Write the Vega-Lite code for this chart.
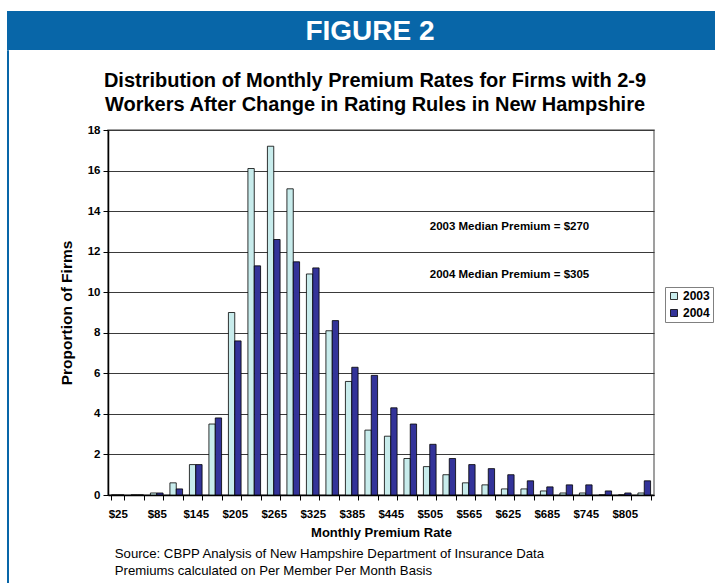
{
  "$schema": "https://vega.github.io/schema/vega-lite/v6.json",
  "background": "white",
  "padding": {"left": 7, "top": 11, "right": 0, "bottom": 0},
  "spacing": 0,
  "config": {
    "view": {"stroke": null},
    "font": "Liberation Sans",
    "concat": {"spacing": 0}
  },
  "vconcat": [
    {
      "width": 708,
      "height": 39,
      "view": {"fill": "#0866a8", "stroke": null},
      "data": {"values": [{"t": "FIGURE 2"}]},
      "mark": {"type": "text", "color": "white", "font": "Liberation Sans", "fontSize": 28, "fontWeight": "bold", "baseline": "middle", "dx": 9, "dy": 1},
      "encoding": {"text": {"field": "t"}}
    },
    {
      "spacing": 49,
      "resolve": {"scale": {"x": "independent", "y": "independent"}},
      "hconcat": [
        {
          "width": 2,
          "height": 365,
          "data": {"values": [{}]},
          "mark": {"type": "rect", "color": "#0866a8", "clip": false},
          "encoding": {
            "y": {"datum": 21.93, "scale": {"domain": [0, 18]}, "axis": null},
            "y2": {"datum": -4.4}
          }
        },
        {
          "width": 546,
          "height": 365,
          "title": {
            "text": ["Distribution of Monthly Premium Rates for Firms with 2-9", "Workers After Change in Rating Rules in New Hampshire"],
            "font": "Liberation Sans",
            "fontSize": 20,
            "fontWeight": "bold",
            "lineHeight": 24,
            "offset": 9,
            "anchor": "middle",
            "dx": -6,
            "color": "black"
          },
          "view": {"stroke": "#808080", "strokeWidth": 1.5},
          "data": {
            "values": [
              {"rate": "$25", "year": "2003", "pct": 0}, {"rate": "$25", "year": "2004", "pct": 0},
              {"rate": "$55", "year": "2003", "pct": 0}, {"rate": "$55", "year": "2004", "pct": 0},
              {"rate": "$85", "year": "2003", "pct": 0.1}, {"rate": "$85", "year": "2004", "pct": 0.1},
              {"rate": "$115", "year": "2003", "pct": 0.6}, {"rate": "$115", "year": "2004", "pct": 0.3},
              {"rate": "$145", "year": "2003", "pct": 1.5}, {"rate": "$145", "year": "2004", "pct": 1.5},
              {"rate": "$175", "year": "2003", "pct": 3.5}, {"rate": "$175", "year": "2004", "pct": 3.8},
              {"rate": "$205", "year": "2003", "pct": 9.0}, {"rate": "$205", "year": "2004", "pct": 7.6},
              {"rate": "$235", "year": "2003", "pct": 16.1}, {"rate": "$235", "year": "2004", "pct": 11.3},
              {"rate": "$265", "year": "2003", "pct": 17.2}, {"rate": "$265", "year": "2004", "pct": 12.6},
              {"rate": "$295", "year": "2003", "pct": 15.1}, {"rate": "$295", "year": "2004", "pct": 11.5},
              {"rate": "$325", "year": "2003", "pct": 10.9}, {"rate": "$325", "year": "2004", "pct": 11.2},
              {"rate": "$355", "year": "2003", "pct": 8.1}, {"rate": "$355", "year": "2004", "pct": 8.6},
              {"rate": "$385", "year": "2003", "pct": 5.6}, {"rate": "$385", "year": "2004", "pct": 6.3},
              {"rate": "$415", "year": "2003", "pct": 3.2}, {"rate": "$415", "year": "2004", "pct": 5.9},
              {"rate": "$445", "year": "2003", "pct": 2.9}, {"rate": "$445", "year": "2004", "pct": 4.3},
              {"rate": "$475", "year": "2003", "pct": 1.8}, {"rate": "$475", "year": "2004", "pct": 3.5},
              {"rate": "$505", "year": "2003", "pct": 1.4}, {"rate": "$505", "year": "2004", "pct": 2.5},
              {"rate": "$535", "year": "2003", "pct": 1.0}, {"rate": "$535", "year": "2004", "pct": 1.8},
              {"rate": "$565", "year": "2003", "pct": 0.6}, {"rate": "$565", "year": "2004", "pct": 1.5},
              {"rate": "$595", "year": "2003", "pct": 0.5}, {"rate": "$595", "year": "2004", "pct": 1.3},
              {"rate": "$625", "year": "2003", "pct": 0.3}, {"rate": "$625", "year": "2004", "pct": 1.0},
              {"rate": "$655", "year": "2003", "pct": 0.3}, {"rate": "$655", "year": "2004", "pct": 0.7},
              {"rate": "$685", "year": "2003", "pct": 0.2}, {"rate": "$685", "year": "2004", "pct": 0.4},
              {"rate": "$715", "year": "2003", "pct": 0.1}, {"rate": "$715", "year": "2004", "pct": 0.5},
              {"rate": "$745", "year": "2003", "pct": 0.1}, {"rate": "$745", "year": "2004", "pct": 0.5},
              {"rate": "$775", "year": "2003", "pct": 0}, {"rate": "$775", "year": "2004", "pct": 0.2},
              {"rate": "$805", "year": "2003", "pct": 0}, {"rate": "$805", "year": "2004", "pct": 0.1},
              {"rate": "$835", "year": "2003", "pct": 0.1}, {"rate": "$835", "year": "2004", "pct": 0.7}
            ]
          },
          "layer": [
            {
              "mark": {"type": "bar", "stroke": "black", "strokeWidth": 0.8},
              "encoding": {
                "x": {
                  "field": "rate",
                  "type": "ordinal",
                  "sort": null,
                  "scale": {"paddingInner": 0.35, "paddingOuter": 0.175},
                  "axis": {
                    "title": "Monthly Premium Rate",
                    "titleFont": "Liberation Sans",
                    "titleFontSize": 13,
                    "titleFontWeight": "bold",
                    "titleColor": "black",
                    "titlePadding": 7,
                    "labelAngle": 0,
                    "labelFont": "Liberation Sans",
                    "labelFontSize": 11.5,
                    "labelFontWeight": "bold",
                    "labelColor": "black",
                    "labelPadding": 8,
                    "labelExpr": "(toNumber(substring(datum.value, 1)) - 25) % 60 === 0 ? datum.value : ''",
                    "tickBand": "extent",
                    "tickColor": "black",
                    "tickSize": 5,
                    "domainColor": "black",
                    "domainWidth": 1.5,
                    "grid": false
                  }
                },
                "xOffset": {"field": "year", "type": "nominal"},
                "y": {
                  "field": "pct",
                  "type": "quantitative",
                  "scale": {"domain": [0, 18]},
                  "axis": {
                    "title": "Proportion of Firms",
                    "titleFont": "Liberation Sans",
                    "titleFontSize": 15.5,
                    "titleFontWeight": "bold",
                    "titleColor": "black",
                    "titlePadding": 13,
                    "values": [0, 2, 4, 6, 8, 10, 12, 14, 16, 18],
                    "labelFont": "Liberation Sans",
                    "labelFontSize": 11.5,
                    "labelFontWeight": "bold",
                    "labelColor": "black",
                    "labelPadding": 3,
                    "tickColor": "black",
                    "tickSize": 5,
                    "domainColor": "black",
                    "domainWidth": 1.5,
                    "grid": true,
                    "gridColor": "#3a3a3a",
                    "gridWidth": 1.2
                  }
                },
                "color": {
                  "field": "year",
                  "type": "nominal",
                  "scale": {"range": ["#c8ecec", "#333399"]},
                  "legend": {
                    "title": null,
                    "orient": "none",
                    "legendX": 658,
                    "legendY": 276,
                    "strokeColor": "#808080",
                    "fillColor": "white",
                    "padding": 3,
                    "symbolType": "square",
                    "symbolSize": 49,
                    "symbolStrokeColor": "black",
                    "symbolStrokeWidth": 0.8,
                    "labelFont": "Liberation Sans",
                    "labelFontSize": 12,
                    "labelFontWeight": "bold",
                    "labelColor": "black",
                    "labelOffset": 3,
                    "rowPadding": 5
                  }
                }
              }
            },
            {
              "data": {"values": [{}]},
              "mark": {"type": "text", "text": "2003 Median Premium = $270", "align": "left", "baseline": "middle", "font": "Liberation Sans", "fontSize": 11.5, "fontWeight": "bold", "color": "black"},
              "encoding": {"x": {"datum": "$505"}, "y": {"datum": 13.2}}
            },
            {
              "data": {"values": [{}]},
              "mark": {"type": "text", "text": "2004 Median Premium = $305", "align": "left", "baseline": "middle", "font": "Liberation Sans", "fontSize": 11.5, "fontWeight": "bold", "color": "black"},
              "encoding": {"x": {"datum": "$505"}, "y": {"datum": 10.85}}
            },
            {
              "data": {"values": [{}]},
              "mark": {"type": "text", "text": "Source: CBPP Analysis of New Hampshire Department of Insurance Data", "align": "left", "baseline": "middle", "font": "Liberation Sans", "fontSize": 13.2, "color": "black", "dx": -3},
              "encoding": {"x": {"datum": "$25"}, "y": {"datum": -2.9}}
            },
            {
              "data": {"values": [{}]},
              "mark": {"type": "text", "text": "Premiums calculated on Per Member Per Month Basis", "align": "left", "baseline": "middle", "font": "Liberation Sans", "fontSize": 13.2, "color": "black", "dx": -3},
              "encoding": {"x": {"datum": "$25"}, "y": {"datum": -3.75}}
            }
          ]
        }
      ]
    }
  ]
}
